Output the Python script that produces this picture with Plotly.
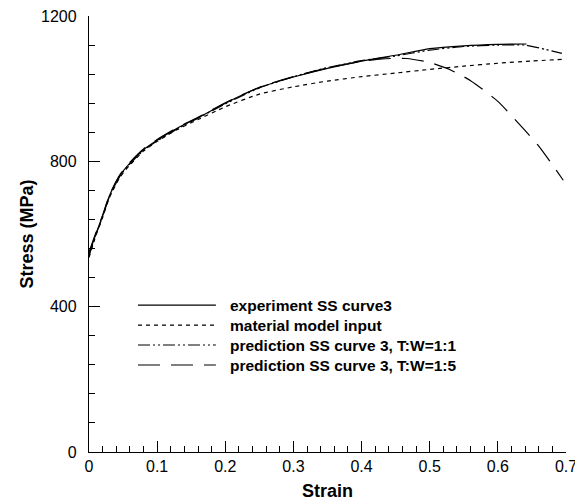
import plotly.graph_objects as go

# ---- data ----
exp_strain = [0, 0.01, 0.02, 0.03, 0.045, 0.06, 0.08, 0.1, 0.13, 0.16, 0.2, 0.25, 0.3, 0.35, 0.4, 0.45, 0.5, 0.55, 0.6, 0.642]
exp_stress = [545, 600, 650, 705, 760, 795, 832, 858, 892, 920, 960, 1003, 1032, 1056, 1076, 1092, 1110, 1118, 1122, 1123]

mat_strain = [0, 0.01, 0.02, 0.03, 0.045, 0.06, 0.08, 0.1, 0.13, 0.16, 0.2, 0.25, 0.3, 0.35, 0.4, 0.45, 0.5, 0.55, 0.6, 0.65, 0.696]
mat_stress = [535, 595, 645, 700, 755, 790, 828, 855, 888, 915, 950, 985, 1005, 1021, 1033, 1043, 1053, 1062, 1070, 1076, 1081]

p11_strain = [0, 0.01, 0.02, 0.03, 0.045, 0.06, 0.08, 0.1, 0.13, 0.16, 0.2, 0.25, 0.3, 0.35, 0.4, 0.45, 0.5, 0.55, 0.6, 0.64, 0.67, 0.694]
p11_stress = [540, 597, 648, 703, 758, 793, 830, 856, 890, 919, 958, 1002, 1033, 1058, 1077, 1090, 1106, 1116, 1120, 1120, 1108, 1097]

p15_strain = [0, 0.01, 0.02, 0.03, 0.045, 0.06, 0.08, 0.1, 0.13, 0.16, 0.2, 0.25, 0.3, 0.35, 0.4, 0.43, 0.466, 0.5, 0.53, 0.56, 0.6, 0.63, 0.66, 0.696]
p15_stress = [550, 603, 652, 707, 762, 797, 834, 860, 893, 921, 961, 1004, 1033, 1057, 1075, 1082, 1083, 1072, 1052, 1022, 965, 905, 842, 748]

series_names = [
    "experiment SS curve3",
    "material model input",
    "prediction SS curve 3, T:W=1:1",
    "prediction SS curve 3, T:W=1:5",
]
series_dash = ["solid", "4px,4px", "12px,3px,2px,3px,2px,3px", "22px,11px"]

x_ticks = [0, 0.1, 0.2, 0.3, 0.4, 0.5, 0.6, 0.7]
x_ticktext = ["0", "0.1", "0.2", "0.3", "0.4", "0.5", "0.6", "0.7"]
y_ticks = [0, 400, 800, 1200]

FONT = "Liberation Sans, Arial, Helvetica, sans-serif"

fig = go.Figure()
data = [(exp_strain, exp_stress), (mat_strain, mat_stress), (p11_strain, p11_stress), (p15_strain, p15_stress)]
for (xs, ys), name, dash in zip(data, series_names, series_dash):
    fig.add_trace(go.Scatter(x=xs, y=ys, mode="lines", name=name,
                             line=dict(color="black", width=1.2, dash=dash, shape="spline", smoothing=0.6),
                             showlegend=False, cliponaxis=False))

# hand-drawn legend (long line samples like the reference)
leg_x0, leg_x1, txt_x = 0.1027, 0.266, 0.2914
leg_y = [0.337, 0.291, 0.2454, 0.1995]
for name, dash, yy in zip(series_names, series_dash, leg_y):
    fig.add_shape(type="line", xref="paper", yref="paper", x0=leg_x0, x1=leg_x1, y0=yy, y1=yy,
                  line=dict(color="black", width=1.2, dash=dash))
    fig.add_annotation(xref="paper", yref="paper", x=txt_x, y=yy, text="<b>%s</b>" % name,
                       showarrow=False, xanchor="left", yanchor="middle",
                       font=dict(family=FONT, size=15.5, color="black"))

# page body has an 8px margin, so the figure is sized/offset to compensate
fig.update_layout(
    width=575, height=496,
    margin=dict(l=81, r=17, t=8, b=52, autoexpand=False),
    plot_bgcolor="white", paper_bgcolor="white",
    font=dict(family=FONT, size=16, color="black"),
)
fig.update_xaxes(range=[0, 0.7], tickvals=x_ticks, ticktext=x_ticktext, automargin=False,
                 ticks="inside", ticklen=11, tickwidth=1.3, tickcolor="black",
                 showline=True, linecolor="black", linewidth=1.3, showgrid=False, zeroline=False,
                 minor=dict(dtick=0.02, tick0=0, ticks="inside", ticklen=6, tickwidth=1.1, tickcolor="black"),
                 tickfont=dict(size=16), ticklabelstandoff=0, ticklabeloverflow="allow",
                 title=dict(text="<b>Strain</b>", font=dict(size=18), standoff=10))
fig.update_yaxes(range=[0, 1200], tickvals=y_ticks, automargin=False,
                 ticks="inside", ticklen=11, tickwidth=1.3, tickcolor="black",
                 showline=True, linecolor="black", linewidth=1.3, showgrid=False, zeroline=False,
                 minor=dict(dtick=80, tick0=0, ticks="inside", ticklen=6, tickwidth=1.1, tickcolor="black"),
                 tickfont=dict(size=16), ticklabelstandoff=8, ticklabeloverflow="allow",
                 title=dict(text="<b>Stress (MPa)</b>", font=dict(size=18), standoff=2))

fig.write_html("out.html")
